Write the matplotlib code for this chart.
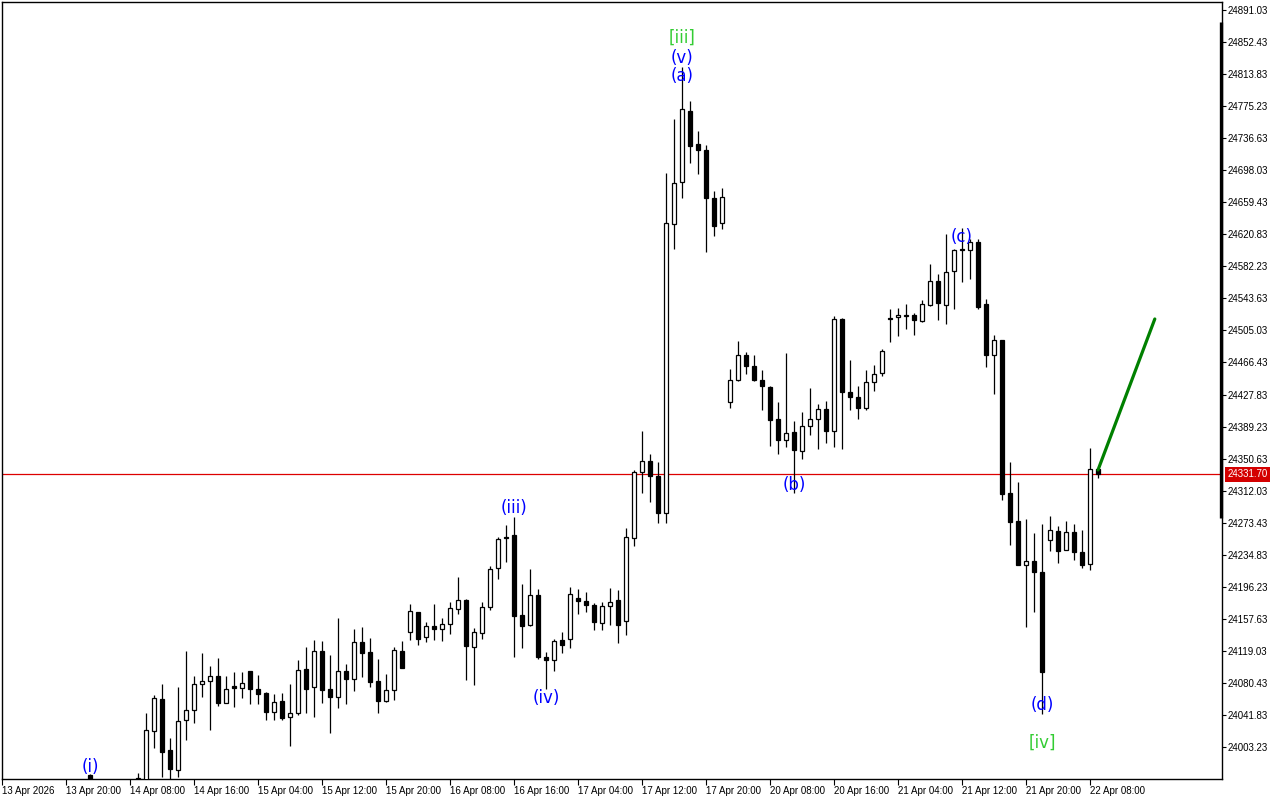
import numpy as np
import matplotlib
matplotlib.use('Agg')
import matplotlib.pyplot as plt
import matplotlib.transforms as mtransforms

plt.rcParams['font.family'] = ['Liberation Sans', 'DejaVu Sans']

# hourly candles, first listed bar is bar 11 on the chart
FIRST_BAR = 11
opens = [
    23969.0, 23945.0, 23935.0, 23940.0, 23930.0, 23942.0, 23950.0, 23960.0, 24022.8, 24060.6,
    23999.2, 23975.5, 24035.4, 24047.4, 24078.7, 24082.3, 24088.3, 24056.5, 24076.7, 24073.9,
    24094.4, 24072.7, 24067.9, 24045.0, 24058.2, 24039.0, 24043.8, 24097.2, 24075.1, 24118.8,
    24073.1, 24063.1, 24094.4, 24084.8, 24129.3, 24117.3, 24082.3, 24058.2, 24071.5, 24118.5,
    24141.4, 24165.5, 24135.4, 24148.6, 24145.0, 24151.0, 24169.1, 24179.9, 24123.3, 24140.2,
    24171.5, 24218.5, 24255.8, 24258.2, 24161.9, 24149.8, 24185.9, 24111.2, 24107.6, 24131.7,
    24133.0, 24182.3, 24178.7, 24173.9, 24152.2, 24172.7, 24179.9, 24154.6, 24254.6, 24334.9,
    24348.1, 24329.7, 24285.5, 24632.9, 24683.5, 24769.4, 24729.6, 24722.0, 24664.2, 24634.1,
    24418.4, 24444.9, 24475.0, 24461.8, 24444.9, 24436.5, 24398.0, 24372.7, 24382.3, 24359.4,
    24389.5, 24398.0, 24410.0, 24383.5, 24518.4, 24430.5, 24424.5, 24411.2, 24442.5, 24453.4,
    24519.6, 24520.9, 24523.0, 24523.2, 24516.0, 24535.3, 24564.2, 24535.3, 24576.3, 24602.8,
    24601.6, 24611.2, 24536.5, 24475.8, 24493.1, 24308.8, 24275.4, 24222.0, 24226.9, 24213.6,
    24252.2, 24263.0, 24240.1, 24261.8, 24237.7, 24223.3, 24337.7,
]
highs = [
    23971.0, 23952.0, 23950.0, 23955.0, 23948.0, 23958.0, 23972.0, 24044.2, 24065.8, 24079.0,
    24013.7, 24075.5, 24118.8, 24088.7, 24116.4, 24100.7, 24110.4, 24088.7, 24093.2, 24093.2,
    24094.4, 24089.9, 24069.0, 24066.7, 24067.9, 24079.0, 24108.0, 24123.6, 24132.1, 24130.9,
    24114.0, 24158.6, 24103.2, 24145.3, 24147.7, 24134.1, 24108.8, 24090.8, 24123.3, 24130.5,
    24175.5, 24165.5, 24153.4, 24175.1, 24158.2, 24177.5, 24207.6, 24181.1, 24146.2, 24177.5,
    24220.9, 24255.8, 24270.3, 24279.9, 24199.2, 24217.3, 24193.2, 24117.3, 24133.0, 24141.4,
    24195.6, 24193.2, 24189.6, 24176.3, 24177.5, 24194.4, 24192.0, 24266.6, 24336.9, 24383.9,
    24356.2, 24346.2, 24694.3, 24759.7, 24822.7, 24781.4, 24745.3, 24728.0, 24672.6, 24676.2,
    24458.5, 24492.3, 24478.7, 24475.0, 24457.0, 24437.7, 24418.4, 24477.5, 24395.6, 24406.4,
    24435.3, 24416.0, 24419.6, 24522.8, 24519.6, 24469.0, 24437.7, 24457.0, 24463.0, 24482.3,
    24530.5, 24531.7, 24536.5, 24525.6, 24541.3, 24584.7, 24572.6, 24620.8, 24602.8, 24628.0,
    24614.8, 24614.8, 24542.5, 24499.2, 24493.1, 24346.2, 24322.1, 24277.8, 24260.6, 24271.5,
    24281.1, 24269.1, 24275.1, 24271.5, 24264.2, 24363.0, 24337.7,
]
lows = [
    23930.0, 23920.0, 23915.0, 23925.0, 23920.0, 23930.0, 23935.0, 23950.0, 24002.3, 23967.4,
    23960.0, 23966.7, 24011.6, 24032.5, 24063.8, 24023.7, 24052.9, 24056.0, 24051.7, 24062.6,
    24055.3, 24055.3, 24035.4, 24035.6, 24035.4, 24004.7, 24041.4, 24043.8, 24039.7, 24055.8,
    24020.4, 24050.5, 24054.6, 24070.3, 24087.2, 24075.1, 24043.8, 24057.0, 24059.8, 24098.0,
    24131.7, 24125.8, 24130.0, 24131.7, 24131.0, 24139.0, 24163.0, 24083.5, 24077.5, 24133.0,
    24167.9, 24205.2, 24225.7, 24111.2, 24122.1, 24148.6, 24108.8, 24072.7, 24094.4, 24116.1,
    24122.1, 24163.0, 24165.8, 24143.8, 24143.8, 24149.8, 24128.8, 24137.8, 24245.7, 24309.5,
    24298.7, 24272.7, 24272.7, 24602.8, 24664.2, 24707.1, 24693.8, 24599.9, 24619.0, 24627.2,
    24411.9, 24443.7, 24452.0, 24443.7, 24409.5, 24365.4, 24355.8, 24364.2, 24308.8, 24349.8,
    24378.7, 24361.8, 24369.0, 24364.2, 24361.8, 24408.8, 24398.7, 24408.8, 24431.7, 24449.8,
    24490.7, 24497.9, 24506.4, 24499.0, 24514.8, 24534.1, 24517.2, 24512.4, 24530.5, 24563.0,
    24566.6, 24531.0, 24461.3, 24428.8, 24301.1, 24246.9, 24222.0, 24148.1, 24166.2, 24042.6,
    24238.9, 24224.5, 24240.1, 24228.1, 24218.5, 24216.0, 24326.9,
]
closes = [
    23945.0, 23935.0, 23940.0, 23930.0, 23942.0, 23950.0, 23966.0, 24023.7, 24061.9, 23997.5,
    23977.0, 24034.1, 24047.4, 24078.7, 24082.3, 24088.3, 24056.5, 24072.7, 24073.9, 24079.9,
    24072.7, 24066.7, 24045.0, 24057.0, 24037.8, 24043.8, 24096.0, 24073.4, 24118.5, 24071.9,
    24063.1, 24094.4, 24084.8, 24129.3, 24116.1, 24081.1, 24058.2, 24071.5, 24119.7, 24098.0,
    24166.7, 24133.0, 24148.6, 24145.0, 24151.0, 24170.3, 24179.9, 24124.6, 24141.4, 24171.5,
    24217.3, 24253.4, 24254.6, 24160.7, 24148.6, 24185.9, 24111.2, 24107.6, 24130.5, 24125.7,
    24187.1, 24178.7, 24173.9, 24153.4, 24172.7, 24177.5, 24149.8, 24255.8, 24334.9, 24348.1,
    24330.0, 24285.5, 24634.1, 24682.3, 24771.4, 24727.6, 24722.0, 24664.9, 24631.2, 24665.4,
    24444.9, 24475.0, 24461.8, 24444.9, 24437.7, 24396.8, 24372.7, 24381.1, 24360.6, 24389.5,
    24398.0, 24410.0, 24383.5, 24518.4, 24430.5, 24424.5, 24411.2, 24442.5, 24452.2, 24479.9,
    24518.4, 24523.6, 24523.5, 24517.2, 24536.5, 24564.2, 24537.7, 24575.0, 24601.6, 24601.6,
    24611.2, 24532.9, 24475.8, 24493.1, 24308.4, 24273.9, 24222.0, 24226.9, 24213.6, 24093.9,
    24264.2, 24238.9, 24261.8, 24237.7, 24222.0, 24337.7, 24331.7,
]

CURRENT_PRICE = 24331.70

# projected move (green line)
proj_bars = [137, 144.1]
proj_prices = [24336.9, 24518.8]

# elliott wave labels: text, bar, price, colour
wave_labels = [
    ('(i)', 11, 23979.1, 'blue'),
    ('(iii)', 64, 24291.1, 'blue'),
    ('(iv)', 68, 24062.2, 'blue'),
    ('[iii]', 85, 24857.3, 'green'),
    ('(v)', 85, 24833.2, 'blue'),
    ('(a)', 85, 24811.5, 'blue'),
    ('(b)', 99, 24318.8, 'blue'),
    ('(c)', 120, 24617.6, 'blue'),
    ('(d)', 130, 24053.8, 'blue'),
    ('[iv]', 130, 24008.0, 'green'),
]
LABEL_COLORS = {'blue': '#0000ff', 'green': '#33cc33'}

date_ticks = list(range(0, 137, 8))
date_labels = [
    '13 Apr 2026', '13 Apr 20:00', '14 Apr 08:00', '14 Apr 16:00', '15 Apr 04:00',
    '15 Apr 12:00', '15 Apr 20:00', '16 Apr 08:00', '16 Apr 16:00', '17 Apr 04:00',
    '17 Apr 12:00', '17 Apr 20:00', '20 Apr 08:00', '20 Apr 16:00', '21 Apr 04:00',
    '21 Apr 12:00', '21 Apr 20:00', '22 Apr 08:00',
]
price_ticks = np.round(24891.03 - 38.6 * np.arange(24), 2)

Y_MIN, Y_MAX = 23964.6, 24900.7


def draw_candles(ax):
    x = np.arange(FIRST_BAR, FIRST_BAR + len(opens))
    o = np.array(opens)
    h = np.array(highs)
    l = np.array(lows)
    c = np.array(closes)
    ax.vlines(x, l, h, color='black', linewidth=0.9, zorder=2)
    up = c >= o
    body_lo = np.minimum(o, c)
    body_h = np.maximum(np.abs(c - o), 0.8)
    ax.bar(x[up], body_h[up], bottom=body_lo[up], width=0.62,
           facecolor='white', edgecolor='black', linewidth=0.9, zorder=3)
    ax.bar(x[~up], body_h[~up], bottom=body_lo[~up], width=0.62,
           facecolor='black', edgecolor='black', linewidth=0.9, zorder=3)


def main():
    fig = plt.figure(figsize=(12.8, 8), dpi=100)
    ax = fig.add_axes([2 / 1280, 21 / 800, 1220 / 1280, 777 / 800])

    draw_candles(ax)

    # current price line
    ax.axhline(CURRENT_PRICE, color='#dd0000', linewidth=0.9, zorder=1)
    trans = mtransforms.blended_transform_factory(ax.transAxes, ax.transData)
    ax.annotate(f'{CURRENT_PRICE:.2f}', xy=(1.0, CURRENT_PRICE), xycoords=trans,
                xytext=(4, 0), textcoords='offset points', ha='left', va='center',
                fontsize=7, color='white', annotation_clip=False,
                bbox=dict(boxstyle='square,pad=0.25', facecolor='#d40000', edgecolor='none'))

    # projection
    ax.plot(proj_bars, proj_prices, color='#008000', linewidth=2.3, zorder=4,
            solid_capstyle='round')

    for text, bar, price, col in wave_labels:
        ax.text(bar, price, text, color=LABEL_COLORS[col], fontsize=12,
                family='DejaVu Sans', ha='center', va='center', zorder=5)

    # thick bar on the right edge
    ax.plot([0.9988, 0.9988], [24876.6, 24279.0], transform=trans, color='black',
            linewidth=2.4, solid_capstyle='butt', clip_on=False, zorder=6)

    ax.set_xlim(0, 152.5)
    ax.set_ylim(Y_MIN, Y_MAX)

    ax.yaxis.tick_right()
    ax.set_yticks(price_ticks)
    ax.set_yticklabels([f'{v:.2f}' for v in price_ticks])
    ax.tick_params(axis='y', direction='out', length=3, width=0.8, pad=1,
                   labelsize=7, colors='black')

    ax.set_xticks(date_ticks)
    ax.set_xticklabels(date_labels)
    for lab in ax.get_xticklabels():
        lab.set_horizontalalignment('left')
    ax.tick_params(axis='x', direction='out', length=4, width=0.8, pad=1,
                   labelsize=7, colors='black')

    for sp in ax.spines.values():
        sp.set_color('black')
        sp.set_linewidth(1.0)

    fig.savefig('out.png', dpi=100, facecolor='white')
    plt.close(fig)


if __name__ == '__main__':
    main()
